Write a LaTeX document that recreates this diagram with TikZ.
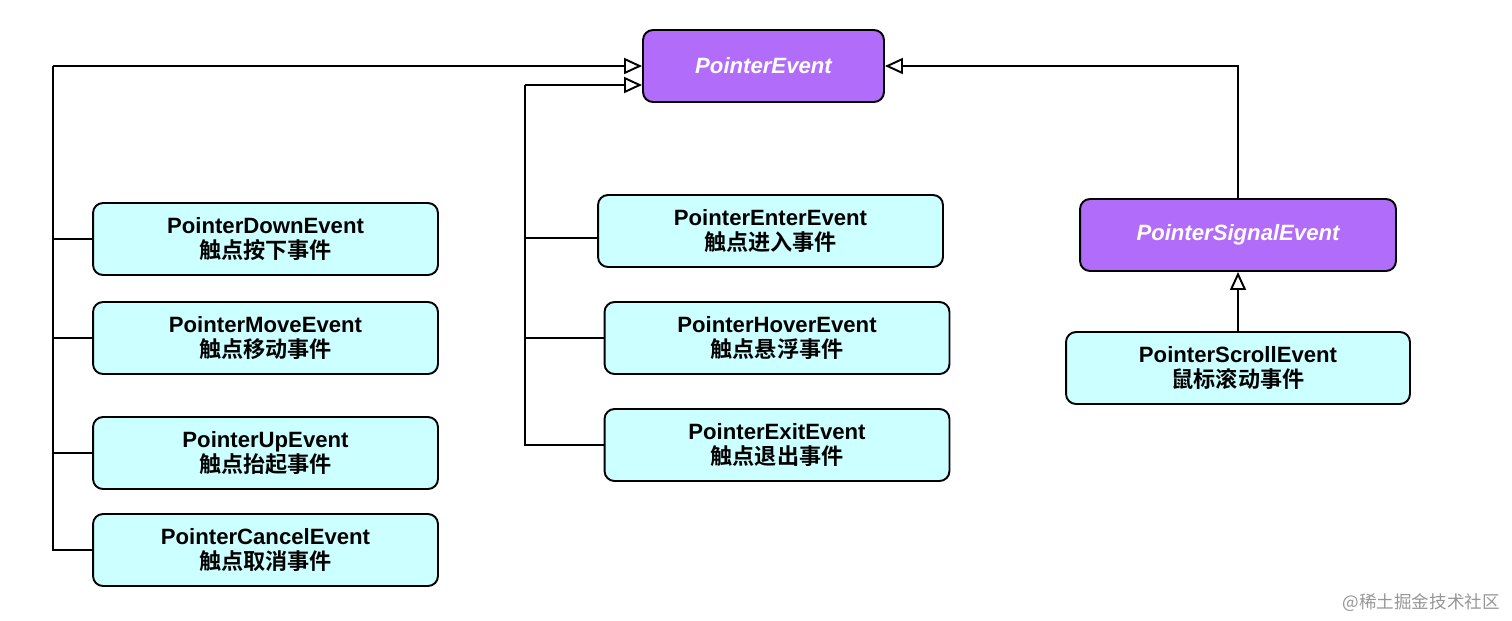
\documentclass[tikz,border=0pt]{standalone}
\usepackage{fontspec}
\setmainfont{Liberation Sans}
\newfontfamily\cjk{Noto Sans CJK SC}[BoldFont={Noto Sans CJK SC Bold}]
\usetikzlibrary{arrows.meta}
\definecolor{basepurple}{RGB}{178,108,250}
\definecolor{subcyan}{RGB}{204,255,255}
\definecolor{markgray}{RGB}{150,150,150}
\tikzset{
  box/.style={draw=black, line width=1.1pt, rounded corners=0.2cm, align=center,
    minimum height=1.44cm, inner sep=0pt, font=\fontsize{12.6}{14.2}\selectfont\bfseries},
  subbox/.style={box, fill=subcyan, text=black, minimum width=6.9cm},
  basebox/.style={box, fill=basepurple, text=white, font=\fontsize{12.6}{14.2}\selectfont\bfseries\itshape},
  link/.style={line width=1.1pt, black},
  inh/.style={link, -{Triangle[open, length=0.36cm, width=0.32cm, line width=1.1pt]}}
}
\begin{document}
\begin{tikzpicture}[x=0.02cm, y=-0.02cm]
\useasboundingbox (0,0) rectangle (1512,620);
% base classes
\node[basebox, minimum width=4.82cm] (pe) at (763.5,66) {PointerEvent};
\node[basebox, minimum width=6.32cm] (signal) at (1238,235) {PointerSignalEvent};
% left column
\node[subbox] (down) at (265.5,239) {PointerDownEvent\\{\cjk 触点按下事件}};
\node[subbox] (move) at (265.5,338) {PointerMoveEvent\\{\cjk 触点移动事件}};
\node[subbox] (up) at (265.5,453) {PointerUpEvent\\{\cjk 触点抬起事件}};
\node[subbox] (cancel) at (265.5,550) {PointerCancelEvent\\{\cjk 触点取消事件}};
% middle column
\node[subbox] (enter) at (770.5,231) {PointerEnterEvent\\{\cjk 触点进入事件}};
\node[subbox] (hover) at (777,338) {PointerHoverEvent\\{\cjk 触点悬浮事件}};
\node[subbox] (exit) at (777,445) {PointerExitEvent\\{\cjk 触点退出事件}};
% right column
\node[subbox, minimum width=6.88cm] (scroll) at (1238,368) {PointerScrollEvent\\{\cjk 鼠标滚动事件}};

% left bus
\coordinate (ltop) at (53,66);
\draw[inh] (ltop) -- (pe.west);
\draw[link] (ltop) |- (cancel.west);
\foreach \n in {down,move,up} {
  \draw[link] (\n.west) -- (\n.west -| ltop);
};
% middle bus
\coordinate (mtop) at (525,85);
\draw[inh] (mtop) -- (mtop -| pe.west);
\draw[link] (mtop) |- (exit.west);
\draw[link] ([yshift=-0.14cm]enter.west) -- ([yshift=-0.14cm]enter.west -| mtop);
\draw[link] (hover.west) -- (hover.west -| mtop);
% right side
\draw[inh] (signal.north) |- (pe.east);
\draw[inh] (scroll.north) -- (signal.south);

\node[text=markgray, font=\fontsize{10}{12}\selectfont, anchor=east] (mark) at (1506,603) {{\cjk @稀土掘金技术社区}};
\end{tikzpicture}
\end{document}
